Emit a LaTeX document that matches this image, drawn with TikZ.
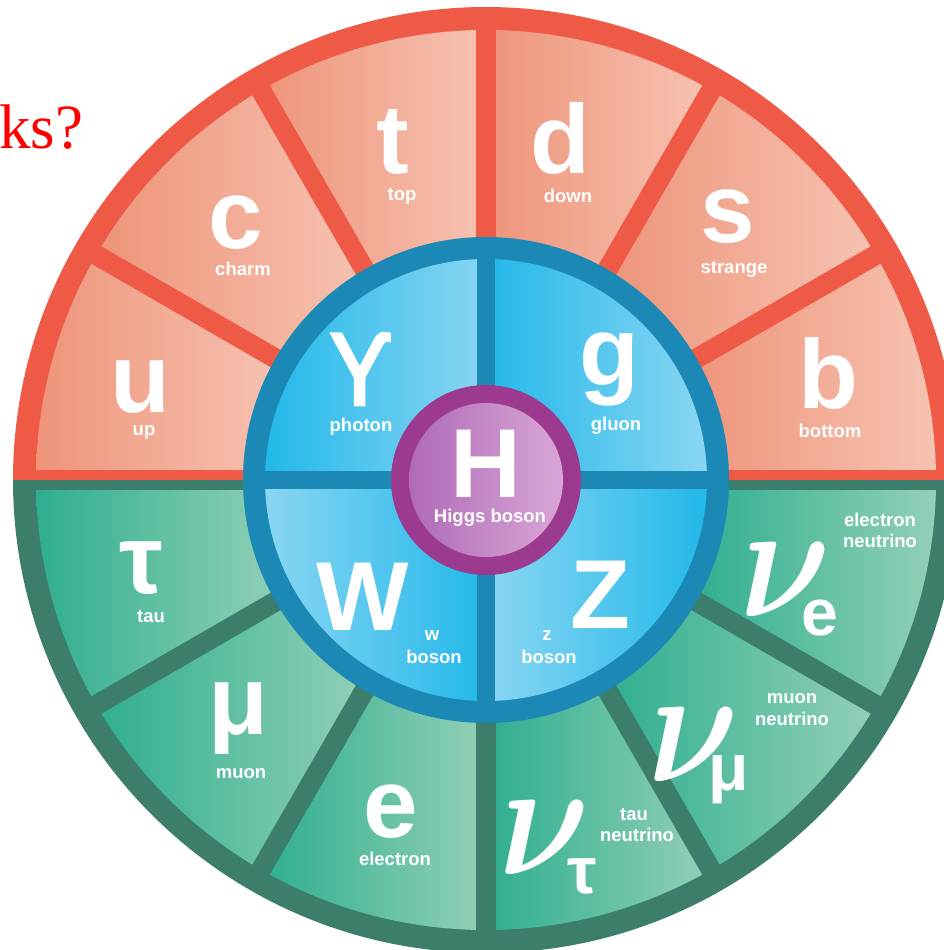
\documentclass[tikz,border=0pt]{standalone}
\usepackage{amsmath}
\usepackage{fontspec}
\setmainfont{Liberation Sans}
\newfontfamily\nsans[AutoFakeBold=2.5]{Noto Sans}
\newfontfamily\tnr{Liberation Serif}
\definecolor{redB}{HTML}{EF5A47}
\definecolor{salL}{HTML}{EE9479}
\definecolor{salR}{HTML}{F6C3B2}
\definecolor{grnB}{HTML}{3D7D6C}
\definecolor{grnL}{HTML}{2EAE8F}
\definecolor{grnR}{HTML}{93D0B7}
\definecolor{bluB}{HTML}{1C88B5}
\definecolor{bluS}{HTML}{22B8EA}
\definecolor{bluL}{HTML}{8AD6F2}
\definecolor{purB}{HTML}{9B3A8E}
\definecolor{purL}{HTML}{AE6BB6}
\definecolor{purR}{HTML}{D9A6D7}
\begin{document}
\begin{tikzpicture}[x=1pt,y=1pt,
  bigl/.style={text=white, font=\fontsize{98}{98}\selectfont\bfseries, inner sep=0pt, anchor=base},
  lbl/.style={text=white, font=\fontsize{18.5}{21}\selectfont\bfseries, inner sep=0pt, anchor=base},
  substy/.style={text=white, font=\fontsize{66}{66}\selectfont\bfseries, inner sep=0pt, anchor=base},
  nusty/.style={text=white, xscale=14, yscale=16.5, inner sep=0pt},
]
\useasboundingbox (0,0) rectangle (944,-950);
\clip (0,0) rectangle (944,-950);
\begin{scope}[shift={(486,-480)}]
  % outer halves (border colours)
  \fill[redB] (0:473) arc[start angle=0,end angle=180,radius=473] -- cycle;
  \fill[grnB] (180:473) arc[start angle=180,end angle=360,radius=473] -- cycle;
  % segments
  \foreach \a in {0,30,...,150}
    \shade[left color=salL,right color=salR] (\a:450) arc[start angle=\a,end angle=\a+30,radius=450] -- (\a+30:235) arc[start angle=\a+30,end angle=\a,radius=235] -- cycle;
  \foreach \a in {180,210,...,330}
    \shade[left color=grnL,right color=grnR] (\a:450) arc[start angle=\a,end angle=\a+30,radius=450] -- (\a+30:235) arc[start angle=\a+30,end angle=\a,radius=235] -- cycle;
  % dividers
  \foreach \a in {30,60,...,150}
    \draw[redB, line width=20pt] (0,0) -- (\a:462);
  \foreach \a in {210,240,...,330}
    \draw[grnB, line width=20pt] (0,0) -- (\a:462);
  \fill[redB] (-460,0) rectangle (460,10);
  \fill[grnB] (-460,0) rectangle (460,-10);
  % boson disc
  \fill[bluB] (0,0) circle[radius=243];
  \shade[left color=bluS,right color=bluL] (0,0) -- (90:221) arc[start angle=90,end angle=180,radius=221] -- cycle;
  \shade[left color=bluS,right color=bluL] (0,0) -- (0:221) arc[start angle=0,end angle=90,radius=221] -- cycle;
  \shade[left color=bluL,right color=bluS] (0,0) -- (180:221) arc[start angle=180,end angle=270,radius=221] -- cycle;
  \shade[left color=bluL,right color=bluS] (0,0) -- (270:221) arc[start angle=270,end angle=360,radius=221] -- cycle;
  \draw[bluB, line width=18pt] (-232,0) -- (232,0);
  \draw[bluB, line width=18pt] (0,-232) -- (0,232);
  % Higgs
  \fill[purB] (0,0) circle[radius=95];
  \shade[left color=purL,right color=purR] (0,0) circle[radius=77];
\end{scope}
% title fragment
\node[font=\tnr\fontsize{63}{63}\selectfont, text=red, anchor=base west, inner sep=0pt] (title) at (-1,-148) {ks?};
% quarks
\node[bigl] (u) at (140,-412) {u};
\node[lbl] (up) at (144,-435) {up};
\node[bigl] (c) at (236,-248) {c};
\node[lbl] (charm) at (243,-275) {charm};
\node[bigl] (t) at (393,-173) {t};
\node[lbl] (top) at (402,-200) {top};
\node[bigl] (d) at (560,-173) {d};
\node[lbl] (down) at (568,-202) {down};
\node[bigl] (s) at (728,-242) {s};
\node[lbl] (strange) at (734,-273) {strange};
\node[bigl] (b) at (828,-408) {b};
\node[lbl] (bottom) at (830,-437) {bottom};
% bosons
\node[bigl, font=\nsans\fontsize{100}{100}\selectfont\bfseries] (gamma) at (361,-405) {ϒ};
\node[lbl] (photon) at (361,-431) {photon};
\node[bigl] (g) at (609,-385) {g};
\node[lbl] (gluon) at (616,-430) {gluon};
\node[bigl] (H) at (486,-497) {H};
\node[lbl] (higgs) at (490,-522) {Higgs boson};
\node[bigl] (W) at (363,-630) {W};
\node[lbl] (w) at (432,-640) {w};
\node[lbl] (wboson) at (434,-663) {boson};
\node[bigl] (Z) at (600,-628) {Z};
\node[lbl] (z) at (547,-640) {z};
\node[lbl] (zboson) at (549,-663) {boson};
% leptons
\node[bigl] (tau) at (141,-593) {τ};
\node[lbl] (taul) at (151,-622) {tau};
\node[bigl] (mu) at (238,-734) {μ};
\node[lbl] (muon) at (241,-778) {muon};
\node[bigl] (e) at (391,-837) {e};
\node[lbl] (electron) at (395,-865) {electron};
\node[nusty] (nue) at (786,-580) {$\boldsymbol{\nu}$};
\node[substy] (nues) at (820,-635) {e};
\node[lbl] (nuel1) at (880,-526) {electron};
\node[lbl] (nuel2) at (880,-547) {neutrino};
\node[nusty] (num) at (694,-745) {$\boldsymbol{\nu}$};
\node[substy] (nums) at (729,-790) {μ};
\node[lbl] (numl1) at (792,-703) {muon};
\node[lbl] (numl2) at (792,-725) {neutrino};
\node[nusty] (nut) at (545,-838) {$\boldsymbol{\nu}$};
\node[substy] (nuts) at (582,-893) {τ};
\node[lbl] (nutl1) at (634,-820) {tau};
\node[lbl] (nutl2) at (637,-841) {neutrino};
\end{tikzpicture}
\end{document}
